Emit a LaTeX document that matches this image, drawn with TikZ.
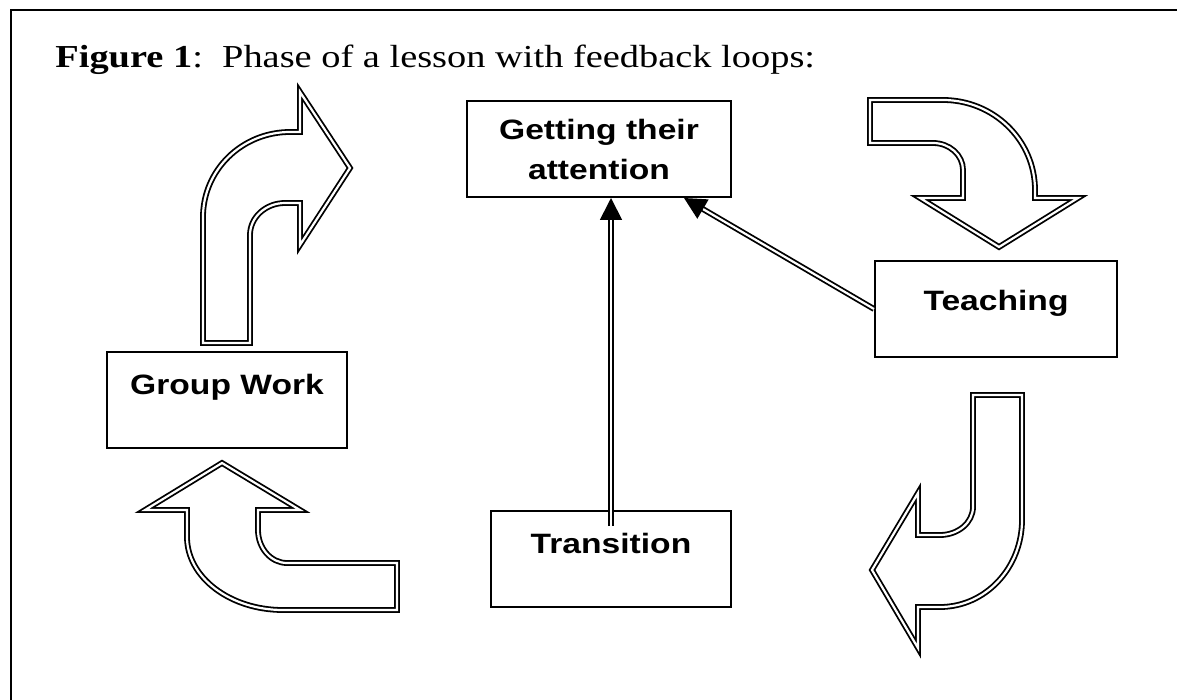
\documentclass[tikz,border=0pt]{standalone}
\usepackage{fontspec}
\setmainfont{Liberation Serif}[FakeStretch=1.2]
\newfontfamily\boxfont{Liberation Sans}[FakeStretch=1.2]
\usetikzlibrary{arrows.meta}
\tikzset{>=latex}

\begin{document}
\begin{tikzpicture}[x=0.5pt, y=-0.5pt,
  blockarrow/.style={draw, line width=0.9pt, double=white, double distance=1.1pt},
  stage/.style={draw, line width=1pt, minimum width=120pt, minimum height=48pt, inner sep=0pt, font=\boxfont\bfseries\fontsize{14}{20}\selectfont, align=center},
  upper/.style={text height=10pt, text depth=16pt},
  link/.style={line width=0.9pt, double=white, double distance=1.1pt, -{Triangle[length=11pt,width=11pt]}}]
\useasboundingbox (0,0) rectangle (1177,700);
% frame
\draw[line width=1pt] (1177,10) -- (11,10) -- (11,700);
\node[anchor=base west, inner sep=0pt, font=\fontsize{16}{19}\selectfont] (title) at (55,68) {\textbf{Figure 1}:~~Phase of a lesson with feedback loops:};

% the four stages
\node[stage, minimum width=132pt] (getting) at (599,149) {Getting their\\attention};
\node[stage, upper, text depth=9pt, minimum width=121pt] (teach) at (996,309) {Teaching};
\node[stage, upper] (group) at (227,400) {Group Work};
\node[stage, upper] (trans) at (611,559) {Transition};

% bent arrows round the loop
\draw[blockarrow] (203,343) -- (203,217) arc[start angle=180, end angle=270, x radius=87, y radius=85]
  -- (300,132) -- (300,92) -- (350,168) -- (300,245) -- (300,203) -- (285,203)
  arc[start angle=270, end angle=180, x radius=35, y radius=32] -- (250,343) -- cycle;
\draw[blockarrow] (870,100) -- (943,100) arc[start angle=270, end angle=360, x radius=92, y radius=90]
  -- (1035,198) -- (1078,198) -- (999,247) -- (920,198) -- (963,198) -- (963,170)
  arc[start angle=0, end angle=-90, x radius=30, y radius=27] -- (870,143) -- cycle;
\draw[blockarrow] (973,395) -- (1022,395) -- (1022,520) arc[start angle=0, end angle=90, x radius=82, y radius=87]
  -- (918,607) -- (918,648) -- (872,570) -- (918,493) -- (918,535) -- (940,535)
  arc[start angle=90, end angle=0, x radius=33, y radius=28] -- cycle;
\draw[blockarrow] (397,610) -- (283,610) arc[start angle=90, end angle=180, x radius=96, y radius=73]
  -- (187,510) -- (145,510) -- (222,463) -- (300,510) -- (258,510) -- (258,530)
  arc[start angle=180, end angle=90, x radius=29, y radius=33] -- (397,563) -- cycle;

% feedback links
\draw[link, shorten <=-8pt] (trans.north) -- (trans.north |- getting.south);
\draw[link] (teach.west) -- ([xshift=-24pt]getting.south east);
\end{tikzpicture}
\end{document}
